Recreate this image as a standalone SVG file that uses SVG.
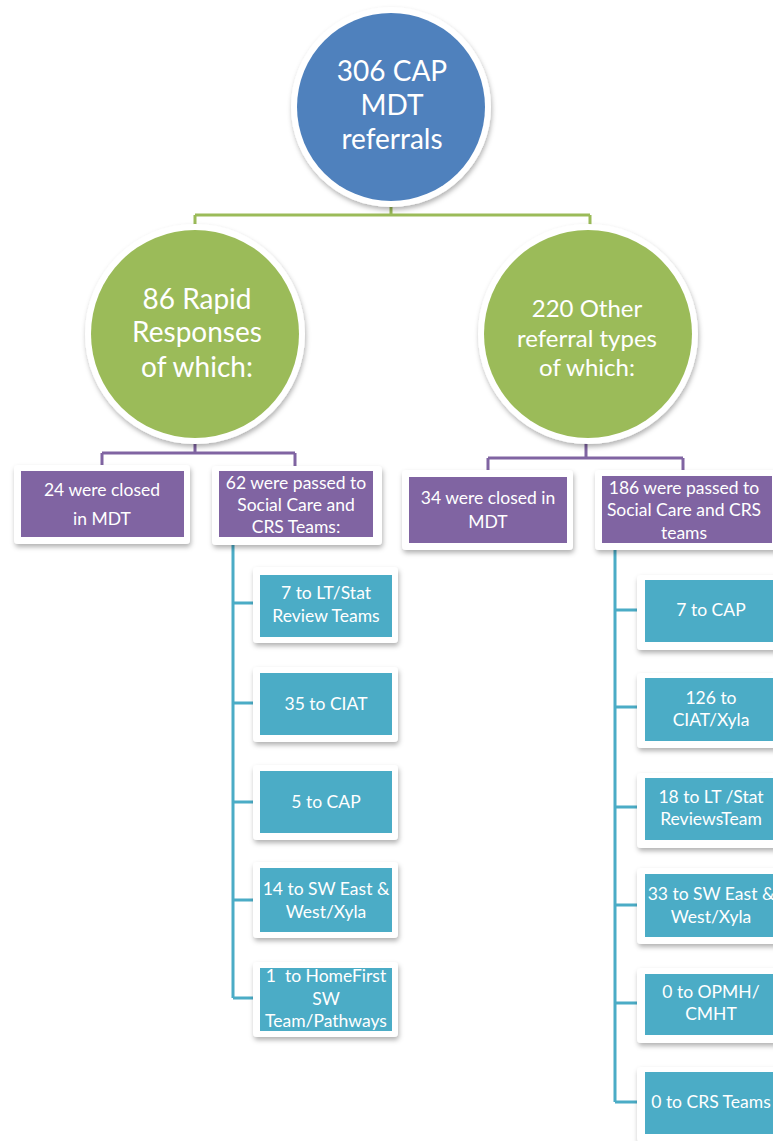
<svg xmlns="http://www.w3.org/2000/svg" width="773" height="1141" viewBox="0 0 773 1141">
<defs>
<filter id="sh" x="-20%" y="-20%" width="140%" height="140%">
<feDropShadow dx="1" dy="3" stdDeviation="2.5" flood-color="#000" flood-opacity="0.3"/>
</filter>
</defs>
<style>
.card{fill:#fff;filter:url(#sh)}
.ring{fill:#fff;filter:url(#sh)}
.blue{fill:#4F81BD}
.green{fill:#9BBB59}
.purple{fill:#8064A2}
.teal{fill:#4BACC6}
text{font-family:Lato,"Open Sans","Liberation Sans",sans-serif;fill:#fff;text-anchor:middle}
.big{font-size:28px}
.mid{font-size:24px}
.sm{font-size:17.5px}
.lg{fill:none;stroke:#9BBB59;stroke-width:3}
.lp{fill:none;stroke:#8064A2;stroke-width:3}
.lt{fill:none;stroke:#4BACC6;stroke-width:3}
</style>
<rect width="773" height="1141" fill="#fff"/>
<g id="connectors">
<path class="lg" d="M391,200V215M195,215H590M195,215V235M590,215V235"/>
<path class="lp" d="M195,430V453M102,453H295M102,453V468M295,453V468"/>
<path class="lp" d="M586,430V458M488,458H683M488,458V472M683,458V472"/>
<path class="lt" d="M233,545V998M233,603H258M233,703H258M233,802H258M233,900H258M233,998H258"/>
<path class="lt" d="M615,550V1102M615,610H640M615,707H640M615,807H640M615,905H640M615,1003H640M615,1102H640"/>
</g>
<g id="n-root">
<circle class="ring" cx="391" cy="107" r="100"/>
<circle class="blue" cx="391" cy="107" r="94"/>
<text class="big" x="392" y="81">306 CAP</text>
<text class="big" x="392" y="115">MDT</text>
<text class="big" x="392" y="149">referrals</text>
</g>
<g id="n-rapid">
<circle class="ring" cx="195" cy="334" r="110"/>
<circle class="green" cx="195" cy="334" r="104"/>
<text class="big" x="197" y="309">86 Rapid</text>
<text class="big" x="197" y="342">Responses</text>
<text class="big" x="197" y="377">of which:</text>
</g>
<g id="n-other">
<circle class="ring" cx="588" cy="334" r="110"/>
<circle class="green" cx="588" cy="334" r="104"/>
<text class="mid" x="587" y="317">220 Other</text>
<text class="mid" x="587" y="347">referral types</text>
<text class="mid" x="587" y="376">of which:</text>
</g>
<g id="n-closed24">
<rect class="card" x="14" y="465" width="176" height="79" rx="4"/>
<rect class="purple" x="21" y="471" width="163" height="66"/>
<text class="sm" x="102" y="496">24 were closed</text>
<text class="sm" x="102" y="525">in MDT</text>
</g>
<g id="n-passed62">
<rect class="card" x="212" y="466" width="170" height="79" rx="4"/>
<rect class="purple" x="219" y="471" width="154" height="66"/>
<text class="sm" x="296" y="489">62 were passed to</text>
<text class="sm" x="296" y="511">Social Care and</text>
<text class="sm" x="296" y="533">CRS Teams:</text>
</g>
<g id="n-closed34">
<rect class="card" x="402" y="470" width="171" height="80" rx="4"/>
<rect class="purple" x="409" y="477" width="158" height="66"/>
<text class="sm" x="488" y="504">34 were closed in</text>
<text class="sm" x="488" y="528">MDT</text>
</g>
<g id="n-passed186">
<rect class="card" x="595" y="470" width="185" height="80" rx="4"/>
<rect class="purple" x="602" y="476" width="170" height="67"/>
<text class="sm" x="684" y="494">186 were passed to</text>
<text class="sm" x="684" y="516">Social Care and CRS</text>
<text class="sm" x="684" y="539">teams</text>
</g>
<g id="n-l1">
<rect class="card" x="253" y="567" width="145" height="76" rx="4"/>
<rect class="teal" x="260" y="575" width="132" height="62"/>
<text class="sm" x="326" y="599">7 to LT/Stat</text>
<text class="sm" x="326" y="622">Review Teams</text>
</g>
<g id="n-l2">
<rect class="card" x="253" y="667" width="145" height="75" rx="4"/>
<rect class="teal" x="260" y="673" width="132" height="62"/>
<text class="sm" x="326" y="710">35 to CIAT</text>
</g>
<g id="n-l3">
<rect class="card" x="253" y="765" width="145" height="75" rx="4"/>
<rect class="teal" x="260" y="771" width="132" height="62"/>
<text class="sm" x="326" y="808">5 to CAP</text>
</g>
<g id="n-l4">
<rect class="card" x="253" y="862" width="145" height="76" rx="4"/>
<rect class="teal" x="260" y="868" width="132" height="64"/>
<text class="sm" x="326" y="895">14 to SW East &amp;</text>
<text class="sm" x="326" y="918">West/Xyla</text>
</g>
<g id="n-l5">
<rect class="card" x="253" y="962" width="145" height="75" rx="4"/>
<rect class="teal" x="260" y="968" width="132" height="63"/>
<text class="sm" x="326" y="982" xml:space="preserve">1  to HomeFirst</text>
<text class="sm" x="326" y="1005">SW</text>
<text class="sm" x="326" y="1027">Team/Pathways</text>
</g>
<g id="n-r1">
<rect class="card" x="637" y="575" width="145" height="75" rx="4"/>
<rect class="teal" x="645" y="580" width="132" height="62"/>
<text class="sm" x="711" y="616">7 to CAP</text>
</g>
<g id="n-r2">
<rect class="card" x="637" y="673" width="145" height="75" rx="4"/>
<rect class="teal" x="645" y="678" width="132" height="63"/>
<text class="sm" x="711" y="704">126 to</text>
<text class="sm" x="711" y="726">CIAT/Xyla</text>
</g>
<g id="n-r3">
<rect class="card" x="637" y="773" width="145" height="75" rx="4"/>
<rect class="teal" x="645" y="778" width="132" height="62"/>
<text class="sm" x="711" y="803">18 to LT /Stat</text>
<text class="sm" x="711" y="825">ReviewsTeam</text>
</g>
<g id="n-r4">
<rect class="card" x="637" y="868" width="145" height="76" rx="4"/>
<rect class="teal" x="645" y="874" width="132" height="63"/>
<text class="sm" x="711" y="900">33 to SW East &amp;</text>
<text class="sm" x="711" y="923">West/Xyla</text>
</g>
<g id="n-r5">
<rect class="card" x="637" y="968" width="145" height="75" rx="4"/>
<rect class="teal" x="645" y="974" width="132" height="61"/>
<text class="sm" x="711" y="998">0 to OPMH/</text>
<text class="sm" x="711" y="1020">CMHT</text>
</g>
<g id="n-r6">
<rect class="card" x="637" y="1067" width="145" height="75" rx="4"/>
<rect class="teal" x="645" y="1072" width="132" height="62"/>
<text class="sm" x="711" y="1108">0 to CRS Teams</text>
</g>
</svg>
